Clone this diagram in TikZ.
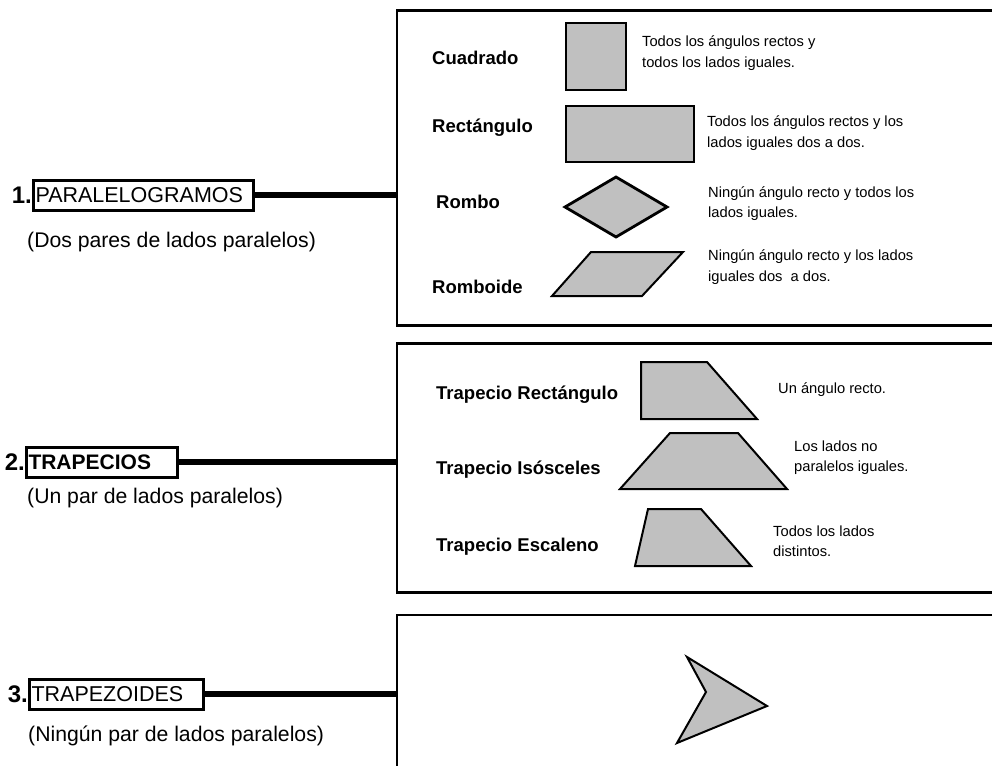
\documentclass[tikz,border=0pt]{standalone}
\usepackage{fontspec}
\setmainfont{Liberation Sans}
\definecolor{figgray}{HTML}{C0C0C0}
\tikzset{
  numlbl/.style={font=\fontsize{24}{28}\selectfont\bfseries, inner sep=0pt, anchor=east},
  grplbl/.style={draw, line width=3pt, inner xsep=2pt, inner ysep=0pt,
    minimum height=30pt, anchor=west, align=left, text width=#1,
    font=\fontsize{21.5}{24}\selectfont},
  sublbl/.style={font=\fontsize{21.2}{24}\selectfont, inner sep=0pt, anchor=west},
  shapename/.style={font=\fontsize{18.5}{22}\selectfont\bfseries, inner sep=0pt, anchor=west},
  shapedesc/.style={font=\fontsize{14.7}{20.5}\selectfont, inner sep=0pt, anchor=west, align=left},
  bigbox/.style={line width=2.2pt},
  link/.style={line width=6pt},
  fig/.style={draw=black, fill=figgray, line width=2pt, line join=miter}
}
\begin{document}
\begin{tikzpicture}[x=1pt,y=-1pt]
    \useasboundingbox (0,0) rectangle (992,765);

    %Boxes
    \draw[bigbox] (1000,10.5) -| (397,325.5) -- (1000,325.5);
    \draw[bigbox] (1000,343.5) -| (397,592.5) -- (1000,592.5);
    \draw[bigbox] (1000,615) -| (397,780);

    %Groups
    \node[grplbl=216pt] (lbl1) at (32,195) {PARALELOGRAMOS};
    \node[numlbl] (num1) at (lbl1.west) {1.};
    \node[sublbl] (sub1) at (27,242) {(Dos pares de lados paralelos)};
    \coordinate (box1w) at (397,195);
    \draw[link] (lbl1.east) -- (box1w);

    \node[grplbl=147pt, font=\fontsize{21}{24}\selectfont\bfseries] (lbl2) at (25,462) {TRAPECIOS};
    \node[numlbl] (num2) at (lbl2.west) {2.};
    \node[sublbl] (sub2) at (27,498) {(Un par de lados paralelos)};
    \coordinate (box2w) at (397,462);
    \draw[link] (lbl2.east) -- (box2w);

    \node[grplbl=170pt] (lbl3) at (28,694) {TRAPEZOIDES};
    \node[numlbl] (num3) at (lbl3.west) {3.};
    \node[sublbl] (sub3) at (28,736) {(Ningún par de lados paralelos)};
    \coordinate (box3w) at (397,694);
    \draw[link] (lbl3.east) -- (box3w);

    %Parallelograms
    \node[shapename] (cuad) at (432,58) {Cuadrado};
    \draw[fig] (566,23) rectangle (626,90);
    \node[shapedesc] (dcuad) at (642,53) {Todos los ángulos rectos y\\todos los lados iguales.};

    \node[shapename] (rect) at (432,128) {Rectángulo};
    \draw[fig] (566,106) rectangle (694,162);
    \node[shapedesc] (drect) at (707,133) {Todos los ángulos rectos y los\\lados iguales dos a dos.};

    \node[shapename] (romb) at (436,202) {Rombo};
    \draw[fig, line width=2.8pt] (565,207) -- (616,177) -- (667,207) -- (616,237) -- cycle;
    \node[shapedesc] (dromb) at (708,203.5) {Ningún ángulo recto y todos los\\lados iguales.};

    \node[shapename] (romd) at (432,287) {Romboide};
    \draw[fig] (552,296) -- (591,252) -- (683,252) -- (642,296) -- cycle;
    \node[shapedesc] (dromd) at (708,267) {Ningún ángulo recto y los lados\\iguales dos\ \ a dos.};

    %Trapezoids
    \node[shapename] (trect) at (436,395) {Trapecio Rectángulo};
    \draw[fig] (641,362) -- (707,362) -- (757,419) -- (641,419) -- cycle;
    \node[shapedesc] (dtrect) at (778,390) {Un ángulo recto.};

    \node[shapename] (tisos) at (436,470) {Trapecio Isósceles};
    \draw[fig] (620,489) -- (670,433) -- (738,433) -- (787,489) -- cycle;
    \node[shapedesc] (dtisos) at (794,457.5) {Los lados no\\paralelos iguales.};

    \node[shapename] (tesca) at (436,547) {Trapecio Escaleno};
    \draw[fig] (635,566) -- (648,509) -- (701,509) -- (751,566) -- cycle;
    \node[shapedesc] (dtesca) at (773,541) {Todos los lados\\distintos.};

    %Trapezoid (dart)
    \draw[fig] (687,657) -- (767,706) -- (677,743) -- (706,692) -- cycle;
  \end{tikzpicture}
\end{document}
